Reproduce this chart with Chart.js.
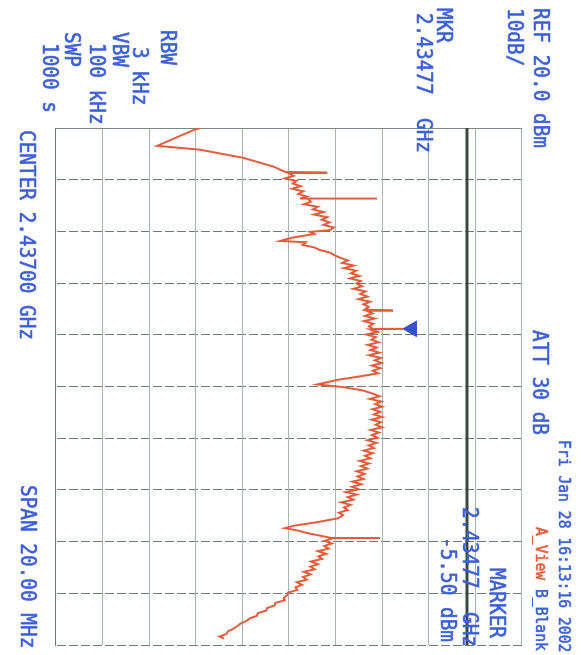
<!DOCTYPE html>
<html>
<head>
<meta charset="utf-8">
<script src="https://cdn.jsdelivr.net/npm/chart.js@4.4.1/dist/chart.umd.min.js"></script>
<style>
  html, body { margin: 0; padding: 0; background: #fff; overflow: hidden; }
  /* the analyzer screen is drawn upright, then turned a quarter clockwise like the scan */
  #screen { position: absolute; left: 0; top: 0; width: 655px; height: 583px;
    transform-origin: 0 0; transform: translate(583px, 0) rotate(90deg); }
</style>
</head>
<body>
<div id="screen"><canvas id="sa" width="655" height="583"></canvas></div>
<script>
const refLevel = 20;        // dBm, top line
const dbPerDiv = 10;
const divisions = 10;
const centerMHz = 2437.0;
const spanMHz = 20;
const markerMHz = 2434.77;
const markerLevel = -5.5;
const markerGlyphLevel = -3.6;
const displayLineLevel = 8.2;

// trace A (MHz / dBm)
const traceFreq = [
  2427.00, 2427.08, 2427.69, 2427.84, 2428.15, 2428.49, 2428.70, 2428.72, 2428.74, 2428.85,
  2428.95, 2429.05, 2429.15, 2429.25, 2429.35, 2429.45, 2429.55, 2429.65, 2429.71, 2429.72,
  2429.74, 2429.85, 2429.95, 2430.05, 2430.15, 2430.25, 2430.35, 2430.45, 2430.55, 2430.65,
  2430.75, 2430.85, 2430.95, 2431.02, 2431.10, 2431.25, 2431.37, 2431.42, 2431.52, 2431.62,
  2431.72, 2431.82, 2431.92, 2432.02, 2432.12, 2432.22, 2432.32, 2432.42, 2432.52, 2432.62,
  2432.72, 2432.82, 2432.92, 2433.02, 2433.12, 2433.22, 2433.32, 2433.42, 2433.52, 2433.62,
  2433.72, 2433.82, 2433.92, 2434.03, 2434.05, 2434.07, 2434.17, 2434.27, 2434.37, 2434.47,
  2434.57, 2434.67, 2434.75, 2434.77, 2434.79, 2434.89, 2434.99, 2435.09, 2435.19, 2435.29,
  2435.39, 2435.49, 2435.59, 2435.69, 2435.79, 2435.89, 2435.99, 2436.09, 2436.19, 2436.29,
  2436.39, 2436.49, 2436.60, 2436.75, 2436.92, 2437.02, 2437.15, 2437.28, 2437.38, 2437.48,
  2437.58, 2437.68, 2437.78, 2437.88, 2437.98, 2438.08, 2438.18, 2438.28, 2438.38, 2438.48,
  2438.58, 2438.68, 2438.78, 2438.88, 2438.98, 2439.08, 2439.18, 2439.28, 2439.38, 2439.48,
  2439.58, 2439.68, 2439.78, 2439.88, 2439.98, 2440.08, 2440.18, 2440.28, 2440.38, 2440.48,
  2440.58, 2440.68, 2440.78, 2440.88, 2440.98, 2441.08, 2441.18, 2441.28, 2441.38, 2441.48,
  2441.58, 2441.68, 2441.78, 2441.88, 2441.98, 2442.10, 2442.25, 2442.38, 2442.48, 2442.56,
  2442.67, 2442.76, 2442.85, 2442.86, 2442.87, 2442.97, 2443.07, 2443.17, 2443.27, 2443.37,
  2443.47, 2443.57, 2443.67, 2443.77, 2443.87, 2443.97, 2444.07, 2444.17, 2444.27, 2444.37,
  2444.47, 2444.57, 2444.67, 2444.77, 2444.87, 2444.97, 2445.07, 2445.17, 2445.27, 2445.37,
  2445.47, 2445.57, 2445.67, 2445.77, 2445.87, 2445.97, 2446.07, 2446.17, 2446.27, 2446.37,
  2446.47, 2446.57, 2446.67, 2446.75
];
const traceLevel = [
  -49.0, -50.5, -58.3, -49.1, -39.9, -33.4, -30.8, -21.8, -30.2, -29.0,
  -30.9, -28.4, -29.2, -27.5, -29.3, -26.9, -28.0, -26.2, -27.4, -11.1,
  -26.0, -25.3, -26.8, -23.8, -24.9, -22.6, -24.6, -21.8, -23.0, -21.3,
  -22.6, -20.4, -21.2, -25.5, -24.6, -29.5, -31.9, -26.4, -27.1, -24.6,
  -23.4, -21.2, -20.3, -19.0, -17.4, -18.6, -16.1, -18.2, -15.6, -16.7,
  -14.9, -16.9, -14.6, -15.5, -14.3, -16.2, -13.6, -14.7, -13.2, -15.1,
  -12.6, -14.0, -12.9, -13.8, -7.7, -13.4, -12.1, -13.7, -11.6, -13.9,
  -11.9, -12.8, -12.2, -5.5, -12.6, -11.0, -13.4, -11.4, -12.3, -10.8,
  -13.1, -11.2, -12.5, -10.6, -12.8, -10.3, -11.6, -10.1, -12.2, -10.4,
  -12.0, -10.9, -14.5, -19.8, -23.9, -18.6, -14.2, -11.9, -10.6, -12.7,
  -10.2, -11.5, -10.0, -12.1, -10.4, -11.8, -10.0, -12.3, -10.3, -11.4,
  -10.0, -12.5, -10.7, -12.2, -11.0, -13.2, -11.2, -12.9, -11.8, -14.0,
  -12.0, -13.7, -12.5, -14.8, -12.8, -14.6, -13.2, -15.5, -13.8, -15.3,
  -14.0, -16.4, -14.5, -16.5, -15.0, -17.8, -15.5, -17.4, -16.2, -18.8,
  -16.8, -18.2, -17.4, -19.3, -18.4, -19.5, -24.0, -28.8, -30.9, -28.4,
  -26.1, -23.6, -21.2, -10.5, -20.6, -22.3, -20.8, -22.4, -21.5, -23.8,
  -22.0, -23.7, -22.9, -25.3, -23.8, -25.4, -24.5, -26.8, -25.4, -27.0,
  -26.2, -28.3, -27.2, -28.6, -28.2, -30.2, -30.4, -31.1, -30.9, -32.9,
  -33.1, -34.7, -34.9, -36.7, -36.9, -38.4, -39.1, -40.4, -41.1, -41.9,
  -43.1, -43.4, -44.9, -44.0
];

const xMin = centerMHz - spanMHz / 2;
const xMax = centerMHz + spanMHz / 2;
const yMax = refLevel;
const yMin = refLevel - dbPerDiv * divisions;

const blue = '#3c5fd8';
const red = '#e35d3d';

const ghz = mhz => (mhz / 1000).toFixed(5) + '  GHz';

// screen annotations, drawn upright on the unrotated canvas
const panelText = {
  id: 'panelText',
  afterDraw(chart) {
    const ctx = chart.ctx;
    const put = (str, u, v, small, color) => {
      const size = small ? 14 : 17;
      const sx = small ? 1.05 : 1.14;
      const sy = small ? 1.15 : 1.2;
      ctx.save();
      ctx.font = size + 'px "DejaVu Sans Mono"';
      ctx.fillStyle = color || blue;
      ctx.strokeStyle = color || blue;
      ctx.lineWidth = 0.5;
      ctx.textBaseline = 'alphabetic';
      ctx.translate(u, v + 0.73 * size * sy / 2);
      ctx.scale(sx, sy);
      ctx.fillText(str, 0, 0);
      ctx.strokeText(str, 0, 0);
      const w = ctx.measureText(str).width * sx;
      ctx.restore();
      return w;
    };
    put('REF ' + refLevel.toFixed(1) + ' dBm', 8, 42);
    put(dbPerDiv + 'dB/', 8, 68);
    put('ATT 30 dB', 330, 43);
    put('Fri Jan 28 16:13:16 2002', 440, 18, true);
    const w = put('A_View ', 527, 41, true, red);
    put('B_Blank', 527 + w, 41, true);

    put('MKR', 8, 139);
    put(ghz(markerMHz), 13, 159);
    put('MARKER', 568, 86);
    put(ghz(markerMHz), 507, 113);
    put(markerLevel.toFixed(2) + ' dBm', 537, 135);

    put('RBW', 30, 415);
    put('3 kHz', 47, 443);
    put('VBW', 32, 463);
    put('100 kHz', 43, 486);
    put('SWP', 32, 511);
    put('1000 s', 43, 533);
    put('CENTER ' + ghz(centerMHz).replace('  ', ' '), 130, 556);
    put('SPAN ' + spanMHz.toFixed(2) + ' MHz', 485, 555);
  }
};

new Chart(document.getElementById('sa'), {
  type: 'scatter',
  data: {
    datasets: [
      {
        label: 'display line',
        data: [{ x: xMin, y: displayLineLevel }, { x: xMax, y: displayLineLevel }],
        showLine: true,
        borderColor: '#3a4a40',
        borderWidth: 3,
        pointRadius: 0
      },
      {
        label: 'A_View',
        data: traceFreq.map((f, i) => ({ x: f, y: traceLevel[i] })),
        showLine: true,
        borderColor: red,
        borderWidth: 2,
        pointRadius: 0,
        tension: 0
      },
      {
        label: 'marker',
        data: [{ x: markerMHz, y: markerGlyphLevel }],
        pointStyle: 'triangle',
        rotation: 180,
        pointRadius: 9,
        backgroundColor: '#3552c9',
        borderColor: '#3552c9'
      }
    ]
  },
  options: {
    responsive: false,
    animation: false,
    layout: { padding: { left: 128, right: 5, top: 61, bottom: 56 } },
    plugins: { legend: { display: false }, tooltip: { enabled: false } },
    scales: {
      x: {
        type: 'linear',
        min: xMin,
        max: xMax,
        ticks: { display: false, stepSize: spanMHz / divisions },
        grid: { color: '#6e7a72', lineWidth: 1, drawTicks: false },
        border: { display: true, color: '#6e7a72', dash: [9, 3] },
        afterFit: s => { s.height = 0; }
      },
      y: {
        min: yMin,
        max: yMax,
        ticks: { display: false, stepSize: dbPerDiv },
        grid: { color: '#aab3ac', lineWidth: 1, drawTicks: false },
        border: { display: true, color: '#7d8880' },
        afterFit: s => { s.width = 0; }
      }
    }
  },
  plugins: [panelText]
});
</script>
</body>
</html>
